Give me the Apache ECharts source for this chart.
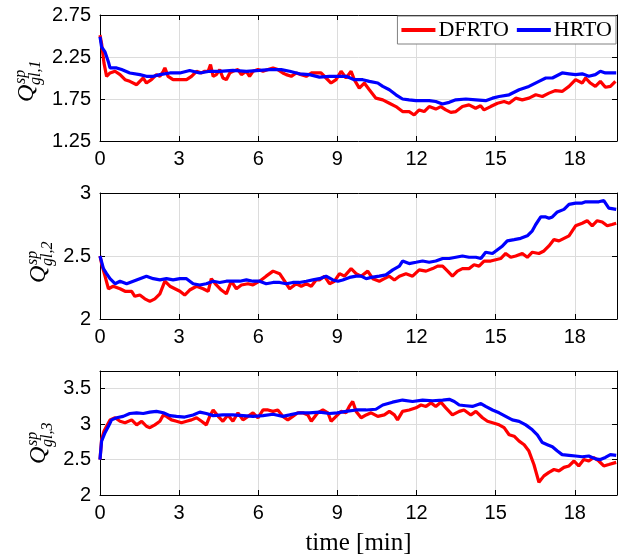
<!DOCTYPE html>
<html>
<head>
<meta charset="utf-8">
<script src="https://cdn.jsdelivr.net/npm/echarts@6/dist/echarts.min.js"></script>
<style>html,body{margin:0;padding:0;background:#fff}#c{width:625px;height:557px}</style>
</head>
<body>
<div id="c"></div>
<script>
// ---- data (time [min], value) ----
const seriesNames = ['DFRTO', 'HRTO'];
const xTicks = [0, 3, 6, 9, 12, 15, 18];
const yTicks1 = [1.25, 1.75, 2.25, 2.75];
const yTicks2 = [2, 2.5, 3];
const yTicks3 = [2, 2.5, 3, 3.5];
const yRanges = [[1.25, 2.75], [2, 3], [2, 3.75]];
const xRange = [0, 19.6];

const q1DFRTO = [[0,2.51],[0.06,2.41],[0.15,2.18],[0.25,2.02],[0.38,2.06],[0.57,2.08],[0.76,2.04],[0.95,1.98],[1.13,1.96],[1.39,1.92],[1.51,1.96],[1.64,2.0],[1.76,1.94],[1.95,1.98],[2.14,2.04],[2.27,2.02],[2.4,2.08],[2.46,2.12],[2.58,2.02],[2.77,1.98],[3.03,1.98],[3.28,1.98],[3.47,2.02],[3.66,2.08],[3.85,2.06],[3.97,2.08],[4.1,2.08],[4.19,2.16],[4.29,2.02],[4.41,2.04],[4.54,2.1],[4.66,2.0],[4.79,1.98],[4.92,2.06],[5.04,2.08],[5.23,2.1],[5.36,2.04],[5.55,2.08],[5.67,2.02],[5.8,2.08],[5.99,2.1],[6.18,2.08],[6.37,2.1],[6.56,2.12],[6.74,2.1],[6.93,2.06],[7.06,2.04],[7.25,2.02],[7.44,2.06],[7.63,2.04],[7.82,2.02],[8.01,2.06],[8.19,2.06],[8.38,2.06],[8.57,2.0],[8.76,1.94],[8.95,1.98],[9.14,2.08],[9.33,2.0],[9.52,2.08],[9.64,1.98],[9.83,1.88],[10.02,1.94],[10.21,1.86],[10.46,1.76],[10.72,1.74],[10.97,1.7],[11.22,1.66],[11.47,1.6],[11.72,1.6],[11.91,1.56],[12.1,1.62],[12.29,1.6],[12.48,1.66],[12.73,1.63],[12.92,1.66],[13.11,1.62],[13.3,1.59],[13.49,1.6],[13.74,1.66],[13.99,1.68],[14.24,1.64],[14.43,1.67],[14.56,1.62],[14.81,1.66],[15.07,1.7],[15.32,1.72],[15.51,1.7],[15.76,1.76],[16.01,1.74],[16.26,1.76],[16.52,1.8],[16.77,1.78],[17.02,1.82],[17.27,1.85],[17.52,1.84],[17.78,1.9],[18.03,1.98],[18.28,1.94],[18.41,2.0],[18.59,1.94],[18.78,1.9],[18.97,1.96],[19.16,1.89],[19.35,1.9],[19.54,1.96]];
const q1HRTO = [[0,2.49],[0.06,2.37],[0.19,2.31],[0.32,2.19],[0.38,2.12],[0.63,2.12],[0.82,2.1],[1.13,2.06],[1.51,2.04],[1.76,2.02],[2.02,2.02],[2.27,2.04],[2.65,2.06],[3.03,2.06],[3.4,2.09],[3.78,2.06],[4.16,2.08],[4.54,2.08],[5.04,2.09],[5.55,2.08],[6.05,2.09],[6.43,2.1],[6.87,2.1],[7.19,2.08],[7.56,2.05],[7.94,2.04],[8.32,2.01],[8.7,2.02],[8.99,2.02],[9.33,2.02],[9.64,1.98],[9.96,1.98],[10.21,1.96],[10.53,1.94],[10.72,1.9],[10.97,1.86],[11.22,1.8],[11.47,1.75],[11.72,1.74],[11.98,1.73],[12.23,1.73],[12.48,1.73],[12.73,1.72],[12.98,1.69],[13.24,1.71],[13.49,1.74],[13.87,1.75],[14.25,1.74],[14.62,1.73],[14.88,1.76],[15.13,1.78],[15.51,1.8],[15.89,1.86],[16.26,1.9],[16.64,1.96],[16.9,2.0],[17.15,2.0],[17.52,2.06],[17.78,2.05],[18.03,2.04],[18.28,2.05],[18.53,2.02],[18.78,2.04],[18.97,2.08],[19.16,2.06],[19.41,2.06],[19.57,2.06]];

const q2DFRTO = [[0,2.5],[0.06,2.44],[0.19,2.34],[0.32,2.24],[0.5,2.26],[0.76,2.24],[0.95,2.22],[1.2,2.22],[1.32,2.18],[1.51,2.19],[1.7,2.16],[1.89,2.14],[2.08,2.16],[2.27,2.2],[2.46,2.3],[2.65,2.26],[2.84,2.24],[3.03,2.22],[3.21,2.19],[3.4,2.23],[3.66,2.26],[3.91,2.24],[4.1,2.22],[4.22,2.32],[4.41,2.27],[4.6,2.23],[4.79,2.2],[4.98,2.3],[5.17,2.24],[5.36,2.27],[5.61,2.28],[5.8,2.27],[6.05,2.3],[6.3,2.34],[6.56,2.38],[6.81,2.36],[7.0,2.3],[7.19,2.24],[7.44,2.28],[7.63,2.26],[7.82,2.28],[8.01,2.26],[8.19,2.31],[8.32,2.31],[8.51,2.34],[8.7,2.28],[8.89,2.3],[9.08,2.36],[9.27,2.34],[9.52,2.4],[9.71,2.36],[9.9,2.34],[10.15,2.38],[10.34,2.32],[10.59,2.3],[10.78,2.32],[10.97,2.34],[11.16,2.31],[11.35,2.34],[11.6,2.36],[11.85,2.34],[12.1,2.39],[12.36,2.38],[12.61,2.4],[12.8,2.42],[12.99,2.42],[13.18,2.38],[13.36,2.34],[13.55,2.38],[13.74,2.4],[13.99,2.4],[14.18,2.43],[14.37,2.42],[14.56,2.46],[14.81,2.46],[15.0,2.47],[15.19,2.48],[15.38,2.52],[15.57,2.49],[15.76,2.5],[16.01,2.52],[16.2,2.49],[16.39,2.53],[16.64,2.52],[16.83,2.54],[17.02,2.58],[17.21,2.63],[17.4,2.62],[17.59,2.64],[17.78,2.66],[18.03,2.74],[18.28,2.76],[18.47,2.78],[18.66,2.74],[18.85,2.78],[19.04,2.77],[19.23,2.74],[19.41,2.75],[19.57,2.76]];
const q2HRTO = [[0,2.5],[0.13,2.4],[0.25,2.36],[0.38,2.32],[0.57,2.28],[0.76,2.3],[1.01,2.28],[1.26,2.3],[1.51,2.32],[1.76,2.34],[2.02,2.32],[2.27,2.31],[2.52,2.32],[2.77,2.31],[3.03,2.32],[3.28,2.32],[3.53,2.28],[3.78,2.27],[4.03,2.28],[4.29,2.3],[4.54,2.29],[4.79,2.3],[5.04,2.3],[5.3,2.3],[5.55,2.31],[5.8,2.3],[6.05,2.3],[6.3,2.28],[6.56,2.29],[6.81,2.29],[7.06,2.28],[7.31,2.29],[7.56,2.29],[7.82,2.3],[8.07,2.31],[8.32,2.32],[8.57,2.34],[8.83,2.31],[9.02,2.3],[9.2,2.31],[9.46,2.33],[9.71,2.34],[9.9,2.34],[10.09,2.32],[10.28,2.33],[10.59,2.34],[10.84,2.35],[11.1,2.39],[11.35,2.42],[11.47,2.46],[11.72,2.44],[11.98,2.45],[12.23,2.46],[12.48,2.45],[12.73,2.46],[12.99,2.48],[13.24,2.48],[13.49,2.49],[13.74,2.5],[13.99,2.49],[14.25,2.49],[14.44,2.48],[14.62,2.53],[14.88,2.52],[15.07,2.55],[15.26,2.58],[15.44,2.62],[15.7,2.63],[15.95,2.64],[16.2,2.66],[16.39,2.7],[16.52,2.75],[16.71,2.81],[16.9,2.81],[17.02,2.8],[17.15,2.81],[17.34,2.85],[17.59,2.87],[17.78,2.91],[18.03,2.92],[18.28,2.92],[18.41,2.93],[18.66,2.93],[18.91,2.93],[19.1,2.94],[19.29,2.88],[19.57,2.87]];

const q3DFRTO = [[0,2.5],[0.06,2.78],[0.15,2.9],[0.25,2.97],[0.38,3.06],[0.57,3.09],[0.76,3.04],[0.95,3.02],[1.2,3.06],[1.39,2.99],[1.58,3.04],[1.76,2.97],[1.89,2.95],[2.08,2.99],[2.27,3.04],[2.4,3.13],[2.52,3.11],[2.71,3.06],[2.9,3.04],[3.09,3.02],[3.28,3.04],[3.47,3.06],[3.66,3.09],[3.85,3.04],[4.03,2.99],[4.16,3.11],[4.29,3.2],[4.48,3.11],[4.66,3.04],[4.85,3.13],[5.04,3.04],[5.23,3.16],[5.42,3.06],[5.61,3.11],[5.8,3.16],[5.99,3.09],[6.18,3.2],[6.37,3.2],[6.56,3.18],[6.74,3.2],[6.93,3.11],[7.12,3.06],[7.31,3.11],[7.5,3.16],[7.69,3.16],[7.88,3.13],[8.01,3.04],[8.19,3.13],[8.26,3.16],[8.45,3.2],[8.64,3.16],[8.76,3.04],[8.95,3.11],[9.14,3.18],[9.33,3.16],[9.45,3.25],[9.58,3.32],[9.71,3.18],[9.9,3.09],[10.09,3.13],[10.28,3.16],[10.53,3.11],[10.78,3.13],[10.97,3.18],[11.16,3.13],[11.28,3.06],[11.47,3.18],[11.72,3.2],[11.98,3.23],[12.17,3.27],[12.36,3.25],[12.55,3.3],[12.73,3.25],[12.92,3.31],[13.11,3.23],[13.36,3.13],[13.62,3.18],[13.8,3.2],[14.06,3.13],[14.25,3.18],[14.5,3.09],[14.69,3.04],[14.88,3.02],[15.13,2.99],[15.32,2.95],[15.51,2.85],[15.7,2.83],[15.89,2.76],[16.08,2.71],[16.26,2.62],[16.45,2.43],[16.64,2.18],[16.83,2.27],[17.02,2.32],[17.21,2.36],[17.4,2.34],[17.59,2.39],[17.78,2.41],[17.97,2.48],[18.15,2.41],[18.34,2.5],[18.53,2.48],[18.72,2.53],[18.91,2.48],[19.1,2.41],[19.29,2.43],[19.57,2.46]];
const q3HRTO = [[0,2.5],[0.06,2.76],[0.19,2.88],[0.32,2.97],[0.44,3.06],[0.63,3.09],[0.88,3.11],[1.13,3.15],[1.39,3.16],[1.64,3.15],[1.89,3.17],[2.14,3.18],[2.4,3.16],[2.65,3.12],[2.9,3.11],[3.21,3.1],[3.53,3.13],[3.78,3.17],[4.03,3.15],[4.29,3.12],[4.66,3.13],[5.04,3.13],[5.42,3.12],[5.8,3.11],[6.18,3.12],[6.56,3.14],[6.93,3.11],[7.19,3.13],[7.56,3.16],[7.94,3.16],[8.32,3.17],[8.7,3.15],[8.99,3.16],[9.33,3.18],[9.71,3.2],[10.09,3.2],[10.46,3.21],[10.72,3.27],[11.09,3.31],[11.47,3.34],[11.85,3.32],[12.23,3.34],[12.61,3.33],[12.99,3.34],[13.24,3.35],[13.43,3.32],[13.62,3.27],[13.87,3.26],[14.12,3.25],[14.44,3.29],[14.62,3.25],[14.88,3.2],[15.13,3.16],[15.38,3.11],[15.63,3.06],[15.89,3.04],[16.14,2.99],[16.39,2.92],[16.58,2.85],[16.77,2.74],[16.96,2.71],[17.15,2.68],[17.34,2.62],[17.52,2.57],[17.78,2.56],[18.03,2.55],[18.28,2.54],[18.53,2.55],[18.78,2.51],[18.97,2.5],[19.16,2.53],[19.35,2.57],[19.57,2.56]];

const panelData = [[q1DFRTO, q1HRTO], [q2DFRTO, q2HRTO], [q3DFRTO, q3HRTO]];
const yTicks = [yTicks1, yTicks2, yTicks3];
const yLabelIdx = ['1', '2', '3'];
const colors = ['#ff0000', '#0000ff'];

// ---- layout ----
const grids = [
  {left: 100, top: 15, width: 517, height: 126},
  {left: 100, top: 193, width: 517, height: 126},
  {left: 100, top: 371, width: 517, height: 125}
];
const labelPos = [[35, 102], [47, 283], [47, 464]];

const sansFont = 'Liberation Sans';
const serifFont = 'Liberation Serif';
const xAxes = [], yAxes = [], series = [], graphics = [];
for (let i = 0; i < 3; i++) {
  const base = {
    gridIndex: i, type: 'value', min: xRange[0], max: xRange[1],
    axisLine: {onZero: false, lineStyle: {color: '#000', width: 1}},
    axisTick: {inside: true, length: 5, customValues: xTicks, lineStyle: {color: '#000'}}
  };
  xAxes.push(Object.assign({}, base, {
    position: 'bottom',
    axisLabel: {customValues: xTicks, color: '#000', fontSize: 20, fontFamily: sansFont, margin: 8},
    splitLine: {show: true, lineStyle: {color: '#dcdcdc', width: 1}},
    name: i === 2 ? 'time [min]' : '', nameLocation: 'middle', nameGap: 36,
    nameTextStyle: {fontFamily: serifFont, fontSize: 25, color: '#000'}
  }));
  xAxes.push(Object.assign({}, base, {
    position: 'top', axisLabel: {show: false}, splitLine: {show: false}
  }));
  const ybase = {
    gridIndex: i, type: 'value', min: yRanges[i][0], max: yRanges[i][1],
    axisLine: {show: true, onZero: false, lineStyle: {color: '#000', width: 1}},
    axisTick: {show: true, inside: true, length: 5, customValues: yTicks[i], lineStyle: {color: '#000'}}
  };
  yAxes.push(Object.assign({}, ybase, {
    position: 'left',
    axisLabel: {customValues: yTicks[i], color: '#000', fontSize: 20, fontFamily: sansFont, margin: 9},
    splitLine: {show: true, lineStyle: {color: '#dcdcdc', width: 1}}
  }));
  yAxes.push(Object.assign({}, ybase, {
    position: 'right', axisLabel: {show: false}, splitLine: {show: false}
  }));
  for (let s = 0; s < 2; s++) {
    series.push({
      name: seriesNames[s], type: 'line', xAxisIndex: 2 * i, yAxisIndex: 2 * i,
      data: panelData[i][s], symbol: 'none', showSymbol: false,
      lineStyle: {color: colors[s], width: 3.2}, itemStyle: {color: colors[s]},
      z: 2 + s, animation: false
    });
  }
  const [gx, gy] = labelPos[i];
  graphics.push({
    type: 'group', x: gx, y: gy, rotation: Math.PI / 2,
    children: [
      {type: 'text', x: 0, y: -8, style: {text: 'Q', fill: '#000', font: 'italic 24px "Liberation Serif"', verticalAlign: 'middle', align: 'left'}},
      {type: 'text', x: 18, y: -14, style: {text: 'sp', fill: '#000', font: 'italic 16px "Liberation Serif"', verticalAlign: 'middle', align: 'left'}},
      {type: 'text', x: 17, y: 1, style: {text: 'gl,' + yLabelIdx[i], fill: '#000', font: 'italic 16px "Liberation Serif"', verticalAlign: 'middle', align: 'left'}}
    ]
  });
}

const chart = echarts.init(document.getElementById('c'), null, {renderer: 'canvas'});
chart.setOption({
  animation: false,
  backgroundColor: '#fff',
  grid: grids,
  xAxis: xAxes,
  yAxis: yAxes,
  legend: {
    data: seriesNames, right: 9, top: 16, orient: 'horizontal',
    icon: 'rect', itemWidth: 34, itemHeight: 4, itemGap: 8,
    padding: [3, 4, 3, 4],
    backgroundColor: '#fff', borderColor: '#808080', borderWidth: 1,
    textStyle: {fontFamily: serifFont, fontSize: 22, color: '#000', padding: [0, 0, 0, -2]}
  },
  series: series,
  graphic: graphics
});
</script>
</body>
</html>
